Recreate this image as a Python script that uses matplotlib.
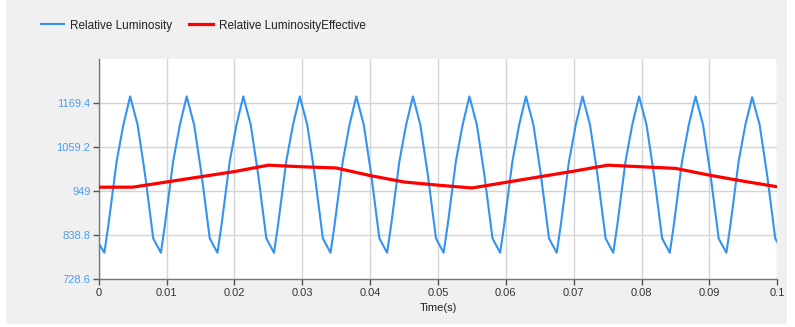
import matplotlib
matplotlib.use("Agg")
import matplotlib.pyplot as plt
from matplotlib.patches import Rectangle

plt.rcParams['font.family'] = ['Liberation Sans', 'DejaVu Sans']

# Blue series: Relative Luminosity
lum_t = [0.0,
         0.00083, 0.00143, 0.00263, 0.00363, 0.00463, 0.00573, 0.00683, 0.00803, 0.00853,
         0.00916, 0.00976, 0.01096, 0.01196, 0.01296, 0.01406, 0.01516, 0.01636, 0.01686,
         0.0175, 0.0181, 0.0193, 0.0203, 0.0213, 0.0224, 0.0235, 0.0247, 0.0252,
         0.02583, 0.02643, 0.02763, 0.02863, 0.02963, 0.03073, 0.03183, 0.03303, 0.03353,
         0.03416, 0.03476, 0.03596, 0.03696, 0.03796, 0.03906, 0.04016, 0.04136, 0.04186,
         0.0425, 0.0431, 0.0443, 0.0453, 0.0463, 0.0474, 0.0485, 0.0497, 0.0502,
         0.05083, 0.05143, 0.05263, 0.05363, 0.05463, 0.05573, 0.05683, 0.05803, 0.05853,
         0.05916, 0.05976, 0.06096, 0.06196, 0.06296, 0.06406, 0.06516, 0.06636, 0.06686,
         0.0675, 0.0681, 0.0693, 0.0703, 0.0713, 0.0724, 0.0735, 0.0747, 0.0752,
         0.07583, 0.07643, 0.07763, 0.07863, 0.07963, 0.08073, 0.08183, 0.08303, 0.08353,
         0.08416, 0.08476, 0.08596, 0.08696, 0.08796, 0.08906, 0.09016, 0.09136, 0.09186,
         0.0925, 0.0931, 0.0943, 0.0953, 0.0963, 0.0974, 0.0985, 0.0997, 0.1]
lum_v = [819,
         795, 865, 1023, 1115, 1186, 1115, 990, 831, 815,
         795, 865, 1023, 1115, 1186, 1115, 990, 831, 815,
         795, 865, 1023, 1115, 1186, 1115, 990, 831, 815,
         795, 865, 1023, 1115, 1186, 1115, 990, 831, 815,
         795, 865, 1023, 1115, 1186, 1115, 990, 831, 815,
         795, 865, 1023, 1115, 1186, 1115, 990, 831, 815,
         795, 865, 1023, 1115, 1186, 1115, 990, 831, 815,
         795, 865, 1023, 1115, 1186, 1115, 990, 831, 815,
         795, 865, 1023, 1115, 1186, 1115, 990, 831, 815,
         795, 865, 1023, 1115, 1186, 1115, 990, 831, 815,
         795, 865, 1023, 1115, 1186, 1115, 990, 831, 815,
         795, 865, 1023, 1115, 1184, 1115, 990, 831, 822]

# Red series: Relative LuminosityEffective
eff_t = [0.0, 0.005, 0.01, 0.015, 0.02, 0.025, 0.03, 0.035, 0.04, 0.045, 0.05,
         0.055, 0.06, 0.065, 0.07, 0.075, 0.08, 0.085, 0.09, 0.095, 0.1]
eff_v = [959, 959, 972, 985, 998, 1014, 1010, 1007, 988, 972, 964,
         957, 971, 985, 999, 1014, 1010, 1006, 989, 974, 960]

x_ticks = [0, 0.01, 0.02, 0.03, 0.04, 0.05, 0.06, 0.07, 0.08, 0.09, 0.1]
x_tick_labels = ["0", "0.01", "0.02", "0.03", "0.04", "0.05", "0.06", "0.07", "0.08", "0.09", "0.1"]
y_ticks = [728.6, 838.8, 949, 1059.2, 1169.4]
y_tick_labels = ["728.6", "838.8", "949", "1059.2", "1169.4"]

fig = plt.figure(figsize=(7.95, 3.27), dpi=100)
fig.patch.set_facecolor('white')
bg = Rectangle((0.008, 0.01), 0.982, 0.99, transform=fig.transFigure,
               facecolor='#f0f0f0', edgecolor='none', zorder=-10)
fig.add_artist(bg)

ax = fig.add_axes([0.1242, 0.1459, 0.9777 - 0.1242, 0.8196 - 0.1459])
ax.set_zorder(1)
ax.set_facecolor('white')

ax.plot(lum_t, lum_v, color='#3393f0', lw=1.5, label='Relative Luminosity', zorder=3,
        solid_joinstyle='round')
ax.plot(eff_t, eff_v, color='#ff0000', lw=2.3, label='Relative LuminosityEffective', zorder=4)

ax.set_xlim(0, 0.1)
ax.set_ylim(728.6, 1279.6)
ax.set_xticks(x_ticks)
ax.set_xticklabels(x_tick_labels)
ax.set_yticks(y_ticks)
ax.set_yticklabels(y_tick_labels)

ax.grid(True, color='#d4d4d4', lw=1.0, zorder=1)
ax.set_axisbelow(True)
for s in ['top', 'right']:
    ax.spines[s].set_visible(False)
for s in ['left', 'bottom']:
    ax.spines[s].set_color('#777777')
    ax.spines[s].set_linewidth(1.0)

ax.tick_params(axis='y', colors='#555555', labelcolor='#4a9ef0', labelsize=8, length=4, width=1, pad=2)
ax.tick_params(axis='x', colors='#555555', labelcolor='#333333', labelsize=8, length=4, width=1, pad=2)

ax.set_xlabel('Time(s)', fontsize=8, color='#222222', labelpad=4)

leg = ax.legend(loc='center left', bbox_to_anchor=(0.038, 0.922), bbox_transform=fig.transFigure,
                ncol=2, frameon=False, fontsize=8.5, handlelength=2.0, handletextpad=0.5,
                columnspacing=1.4)
for t in leg.get_texts():
    t.set_color('#222222')

fig.savefig('out.png', dpi=100, facecolor=fig.get_facecolor())
